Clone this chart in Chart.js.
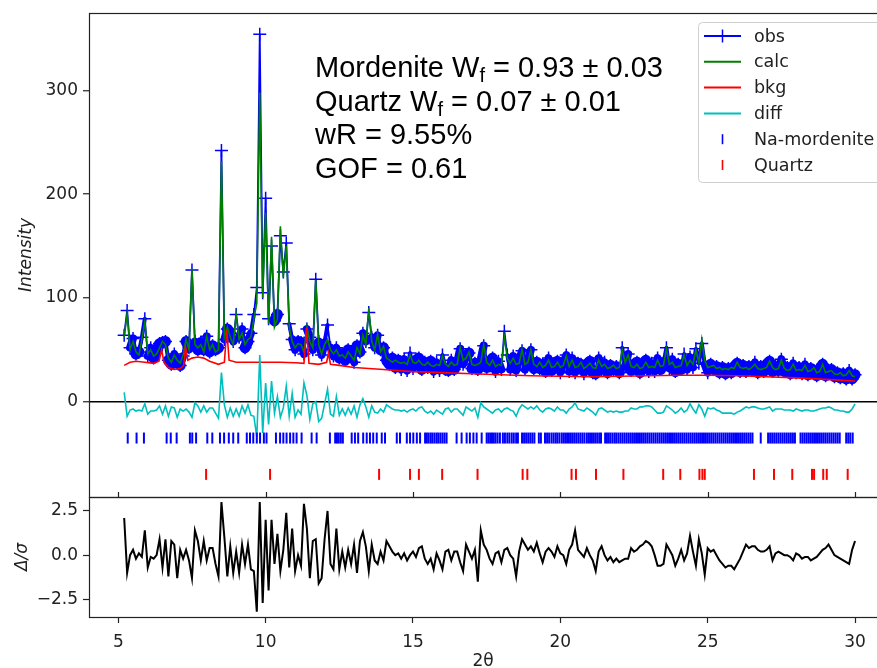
<!DOCTYPE html>
<html>
<head>
<meta charset="utf-8">
<script src="https://cdn.jsdelivr.net/npm/chart.js@4.4.0/dist/chart.umd.min.js"></script>
<style>
  html, body { margin: 0; padding: 0; background: #fff; overflow: hidden; }
  canvas { display: block; }
</style>
</head>
<body>
<canvas id="rietveld" width="877" height="668"></canvas>
<script>
// measurement grid (2theta, degrees)
const start2Theta = 5.2;
const step2Theta = 0.1;

// observed intensity, one value per grid step (5.2 .. 30.0)
const obs = [
  64, 88, 52, 61, 46, 48, 62, 80, 44, 52,
  42, 49, 56, 57, 58, 40, 36, 46, 38, 35,
  44, 58, 52, 127, 58, 50, 57, 50, 63, 48,
  54, 50, 52, 242, 60, 70, 66, 58, 84, 62,
  70, 52, 58, 66, 84, 110, 354, 105, 196, 80,
  150, 78, 84, 160, 125, 153, 75, 60, 50, 58,
  57, 46, 70, 62, 50, 118, 58, 45, 57, 74,
  52, 44, 52, 42, 46, 40, 50, 46, 38, 54,
  48, 66, 58, 86, 62, 52, 64, 50, 52, 40,
  36, 42, 33, 40, 31, 41, 30, 47, 32, 40,
  42, 31, 38, 33, 39, 29, 38, 30, 45, 31,
  30, 40, 31, 38, 51, 36, 44, 47, 32, 37,
  31, 41, 54, 33, 38, 42, 29, 39, 31, 68,
  45, 31, 44, 30, 40, 49, 31, 41, 50, 32,
  38, 32, 36, 29, 42, 30, 36, 39, 28, 37,
  45, 29, 42, 28, 37, 36, 27, 36, 39, 28,
  27, 42, 30, 38, 28, 35, 31, 34, 28, 52,
  34, 46, 30, 36, 38, 28, 35, 40, 29, 37,
  29, 42, 31, 37, 52, 32, 41, 29, 36, 31,
  46, 31, 43, 33, 51, 37, 56, 36, 28, 36,
  31, 34, 28, 33, 27, 32, 28, 34, 37, 29,
  35, 29, 34, 30, 38, 28, 34, 29, 36, 39,
  29, 34, 30, 41, 29, 33, 27, 37, 28, 33,
  27, 36, 26, 32, 30, 25, 31, 36, 25, 30,
  31, 24, 28, 23, 27, 22, 30, 22, 26
];

// calculated pattern
const calc = [
  62, 85, 50, 58, 48, 45, 60, 77, 46, 50,
  44, 46, 52, 58, 55, 42, 38, 45, 40, 37,
  45, 60, 50, 128, 55, 52, 55, 48, 63, 50,
  55, 48, 50, 232, 62, 72, 62, 55, 84, 60,
  66, 55, 60, 62, 80, 95, 298, 100, 182, 75,
  159, 72, 80, 169, 120, 150, 72, 58, 52, 56,
  55, 48, 72, 58, 52, 117, 55, 46, 55, 60,
  50, 46, 50, 44, 45, 42, 48, 44, 40, 52,
  46, 64, 55, 90, 58, 50, 65, 48, 53, 42,
  40, 38, 40, 38, 37, 38, 36, 45, 38, 37,
  40, 36, 35, 38, 35, 34, 36, 35, 44, 36,
  34, 38, 35, 36, 52, 40, 42, 48, 36, 35,
  36, 38, 55, 38, 35, 40, 34, 36, 35, 62,
  42, 37, 42, 36, 37, 50, 36, 38, 50, 36,
  34, 38, 33, 35, 40, 33, 34, 38, 33, 35,
  44, 34, 40, 33, 34, 38, 32, 34, 37, 33,
  32, 40, 34, 36, 32, 33, 35, 32, 33, 50,
  38, 45, 34, 33, 36, 32, 33, 38, 33, 34,
  33, 40, 34, 35, 51, 36, 38, 33, 34, 35,
  45, 35, 40, 36, 50, 38, 60, 40, 33, 34,
  35, 32, 33, 31, 32, 31, 33, 32, 38, 33,
  32, 33, 31, 33, 36, 32, 31, 32, 33, 39,
  33, 31, 32, 40, 32, 30, 31, 36, 30, 31,
  30, 35, 29, 30, 33, 28, 29, 36, 28, 29,
  30, 27, 26, 28, 25, 26, 30, 25, 24
];

// difference curve (plotted with its offset, as in the figure)
const diff = [
  9, -14, -8, -7, -9, -8, -9, -2, -12, -9,
  -9, -8, -4, -12, -4, -14, -5, -6, -15, -7,
  -9, -7, -10, -15, -1, -4, -10, -4, -10, -6,
  -6, -11, -16, 28, -3, -15, -6, -14, -7, -14,
  -4, -11, -3, -13, -14, -34, 45, -30, 18, -22,
  20, -11, 5, -15, -6, 15, -14, 8, -15, -8,
  -12, 18, 6, -17, -2, 0, -19, -16, -2, 12,
  -12, -14, 5, -13, -7, -13, -6, -12, -4, -15,
  -3, 3, -5, -15, -4, -10, -11, -7, -10, -3,
  -5, -7, -8, -8, -9, -8, -10, -8, -7, -9,
  -6, -5, -9, -11, -9, -12, -8, -10, -12, -7,
  -6, -10, -7, -7, -10, -13, -5, -7, -9, -6,
  -15, -1, -5, -7, -9, -11, -8, -7, -10, -7,
  -6, -8, -9, -14, -7, -3, -5, -7, -5, -7,
  -4, -8, -10, -7, -6, -7, -9, -5, -8, -8,
  -11, -7, -5, -1, -7, -8, -9, -6, -8, -10,
  -13, -7, -6, -8, -10, -9, -10, -9, -10, -10,
  -9, -9, -6, -7, -7, -5, -5, -4, -4, -5,
  -8, -11, -11, -10, -4, -6, -8, -11, -9, -6,
  -10, -8, -2, -7, -11, -3, -7, -14, -6, -7,
  -6, -8, -9, -11, -11, -11, -11, -12, -10, -9,
  -7, -5, -6, -5, -5, -6, -7, -7, -6, -5,
  -9, -7, -7, -7, -8, -8, -8, -9, -7, -8,
  -9, -8, -8, -9, -9, -8, -7, -6, -6, -5,
  -6, -8, -8, -9, -9, -10, -10, -7, -2
];

// normalised residual for the lower panel
const deltaSigma = [
  2.1, -1.0, 0.0, 0.3, -0.2, 0.1, -0.1, 1.4, -0.7, -0.1,
  -0.2, 0.0, 0.9, -0.7, 0.9, -1.2, 0.8, 0.6, -1.3, 0.3,
  -0.2, 0.3, -0.3, -1.3, 1.4, 0.8, -0.3, 0.8, -0.3, 0.4,
  0.4, -0.5, -1.2, 3.0, 1.0, -1.2, 0.5, -1.0, 0.2, -1.0,
  0.6, -0.5, 0.6, -0.8, -0.9, -3.2, 3.0, -2.7, 2.0, -2.0,
  2.0, -0.5, 1.2, -0.9, 0.3, 2.4, -0.7, 1.5, -0.9, 0.0,
  -0.6, 2.9, 1.5, -1.3, 0.8, 0.9, -1.6, -1.3, 0.9, 2.5,
  -0.5, -0.8, 1.5, -0.8, 0.2, -0.7, 0.3, -0.5, 0.6, -1.0,
  0.8, 1.3, 0.5, -0.9, 0.6, -0.3, -0.5, 0.2, -0.3, 0.8,
  0.5, 0.2, 0.0, 0.1, -0.2, 0.1, -0.3, 0.0, 0.2, -0.1,
  0.4, 0.5, -0.2, -0.5, -0.2, -0.8, 0.1, -0.3, -0.8, 0.2,
  0.3, -0.3, 0.2, 0.2, -0.4, -0.9, 0.6, 0.2, -0.2, 0.3,
  -1.5, 1.4, 0.6, 0.3, -0.2, -0.5, 0.1, 0.2, -0.4, 0.3,
  0.4, 0.0, -0.2, -1.2, 0.2, 0.9, 0.6, 0.3, 0.5, 0.2,
  0.7, 0.1, -0.4, 0.2, 0.4, 0.2, -0.1, 0.5, 0.1, 0.0,
  -0.5, 0.3, 0.6, 1.4, 0.3, 0.1, -0.1, 0.4, 0.0, -0.3,
  -0.9, 0.2, 0.5, 0.0, -0.3, -0.1, -0.4, -0.2, -0.4, -0.3,
  -0.2, -0.2, 0.4, 0.2, 0.3, 0.5, 0.6, 0.8, 0.7, 0.5,
  0.0, -0.6, -0.6, -0.5, 0.6, 0.3, 0.0, -0.6, -0.2, 0.3,
  -0.3, 0.1, 1.1, 0.2, -0.6, 0.9, 0.1, -1.1, 0.4, 0.2,
  0.3, 0.0, -0.3, -0.5, -0.7, -0.6, -0.6, -0.8, -0.5, -0.2,
  0.2, 0.6, 0.4, 0.5, 0.5, 0.3, 0.2, 0.2, 0.3, 0.5,
  -0.3, 0.1, 0.2, 0.1, 0.0, 0.0, -0.1, -0.3, 0.1, 0.0,
  -0.2, -0.1, -0.1, -0.3, -0.2, -0.1, 0.1, 0.3, 0.4, 0.6,
  0.3, 0.0, -0.1, -0.2, -0.3, -0.4, -0.5, 0.3, 0.8
];

// background, sampled where it bends
const bkgAngles = [5.2, 5.4, 5.6, 5.9, 6.2, 6.38, 6.47, 6.55, 6.7, 6.9,
  7.1, 7.22, 7.28, 7.36, 7.5, 7.7, 7.9, 8.1, 8.4, 8.6,
  8.68, 8.76, 9.0, 9.5, 10.0, 10.5, 11.0, 11.3, 11.39, 11.47,
  11.8, 12.07, 12.13, 12.2, 12.5, 13, 14, 15, 16, 17,
  18, 19, 20, 21, 22, 23, 24, 25, 26, 27, 28, 29, 30];
const bkg = [35, 38, 39, 38, 37, 39, 50, 38, 33, 31,
  32, 35, 53, 40, 42, 43, 42, 39, 36, 38,
  70, 40, 38, 38, 38, 38, 37.5, 37, 71, 37,
  36, 38, 47, 36, 35, 33, 31, 29, 28, 27,
  26, 25, 24.5, 24, 24.5, 25, 25.5, 25.5, 25, 24, 23, 21.5, 20];

// reflection positions (2theta)
const mordeniteTicks = [5.32, 5.62, 5.87, 6.64, 6.78, 6.98, 7.43, 7.51, 7.64, 8.02,
  8.19, 8.45, 8.59, 8.75, 8.9, 9.07, 9.36, 9.47, 9.58, 9.7,
  9.81, 9.94, 10.03, 10.35, 10.49, 10.6, 10.71, 10.83, 10.94, 11.05,
  11.22, 11.56, 11.73, 12.18, 12.36, 12.42, 12.48, 12.55, 12.62, 12.92,
  13.03, 13.14, 13.31, 13.43, 13.54, 13.65, 13.77, 13.94, 14.05, 14.45,
  14.56, 14.79, 14.9, 15.01, 15.13, 15.24, 15.41, 15.47, 15.53, 15.6,
  15.66, 15.73, 15.8, 15.86, 15.93, 16.0, 16.07, 16.14, 16.48, 16.65,
  16.82, 16.93, 17.05, 17.16, 17.33, 17.5, 17.56, 17.62, 17.68, 17.74,
  17.8, 17.87, 17.95, 18.05, 18.12, 18.2, 18.27, 18.35, 18.42, 18.5,
  18.56, 18.7, 18.77, 18.84, 18.91, 18.98, 19.05, 19.12, 19.27, 19.34,
  19.48, 19.55, 19.62, 19.7, 19.77, 19.84, 19.9, 19.97, 20.05, 20.12,
  20.19, 20.26, 20.33, 20.4, 20.47, 20.54, 20.61, 20.68, 20.75, 20.82,
  20.9, 20.97, 21.04, 21.11, 21.18, 21.25, 21.32, 21.38, 21.52, 21.58,
  21.64, 21.7, 21.77, 21.84, 21.9, 21.97, 22.04, 22.11, 22.18, 22.25,
  22.32, 22.39, 22.46, 22.53, 22.6, 22.67, 22.74, 22.81, 22.88, 22.95,
  23.02, 23.09, 23.16, 23.23, 23.3, 23.37, 23.44, 23.51, 23.58, 23.65,
  23.72, 23.79, 23.86, 23.93, 24.0, 24.07, 24.14, 24.21, 24.28, 24.35,
  24.42, 24.49, 24.56, 24.63, 24.7, 24.77, 24.84, 24.91, 24.98, 25.05,
  25.12, 25.19, 25.26, 25.33, 25.4, 25.47, 25.54, 25.61, 25.68, 25.75,
  25.82, 25.89, 25.96, 26.03, 26.1, 26.17, 26.24, 26.31, 26.38, 26.45,
  26.52, 26.8, 27.05, 27.12, 27.19, 27.26, 27.33, 27.4, 27.47, 27.54,
  27.61, 27.68, 27.75, 27.82, 27.89, 27.96, 28.15, 28.22, 28.29, 28.36,
  28.43, 28.5, 28.57, 28.64, 28.71, 28.78, 28.85, 28.92, 28.99, 29.06,
  29.13, 29.2, 29.27, 29.34, 29.41, 29.48, 29.7, 29.77, 29.84, 29.92];
const quartzTicks = [7.98, 10.15, 13.85, 14.9, 15.2, 15.99, 17.19, 18.72, 18.88, 20.38,
  20.53, 21.21, 22.14, 23.49, 24.07, 24.72, 24.82, 24.9, 26.57, 27.25,
  27.87, 28.54, 28.61, 28.92, 29.04, 29.75];

// refinement results written on the plot: [text, subscript, rest]
const fitNotes = [
  ['Mordenite W', 'f', ' = 0.93 \u00b1 0.03'],
  ['Quartz W', 'f', ' = 0.07 \u00b1 0.01'],
  ['wR = 9.55%'],
  ['GOF = 0.61']
];

const twoTheta = obs.map((_, i) => Math.round((start2Theta + i * step2Theta) * 10) / 10);
const onGrid = ys => ys.map((y, i) => ({ x: twoTheta[i], y: y }));
const NA_ROW = -35;   // vertical place of the reflection rows
const QZ_ROW = -70;

const tickFont = { family: 'DejaVu Sans', size: 17 };
const ink = '#222';

// the dense "+" markers of the original merge into a band where the pattern is flat
function obsWidth(ctx) {
  const dy = Math.abs(ctx.p1.y - ctx.p0.y);
  if (dy < 8) return 11;
  if (dy < 14) return 8;
  if (dy < 22) return 4;
  return 1.8;
}

function noPadding(s) {
  s.paddingLeft = 0; s.paddingRight = 0; s.paddingTop = 0; s.paddingBottom = 0;
}

const panelFrame = {
  id: 'panelFrame',
  afterDatasetsDraw(chart) {
    const { ctx, chartArea, scales } = chart;
    ctx.save();
    ctx.strokeStyle = ink;
    ctx.lineWidth = 1.2;
    [scales.y, scales.d].forEach(s => {
      ctx.strokeRect(chartArea.left + 0.5, Math.round(s.top) + 0.5, chartArea.width + 20, s.bottom - s.top);
    });
    // tick marks of the upper panel's x axis
    scales.x.ticks.forEach(t => {
      const px = Math.round(scales.x.getPixelForValue(t.value)) + 0.5;
      ctx.beginPath();
      ctx.moveTo(px, scales.y.bottom - 5);
      ctx.lineTo(px, scales.y.bottom);
      ctx.stroke();
    });

    // fit results
    ctx.fillStyle = '#000';
    ctx.textBaseline = 'alphabetic';
    fitNotes.forEach((parts, i) => {
      let x = 315;
      const y = 77 + i * 33.5;
      ctx.font = '29px "Liberation Sans"';
      ctx.fillText(parts[0], x, y);
      x += ctx.measureText(parts[0]).width;
      if (parts.length > 1) {
        ctx.font = '20px "Liberation Sans"';
        ctx.fillText(parts[1], x, y + 5);
        x += ctx.measureText(parts[1]).width;
        ctx.font = '29px "Liberation Sans"';
        ctx.fillText(parts[2], x, y);
      }
    });

    // legend box
    const bx = 698.5, by = 22.5, bw = 220, bh = 160, r = 4;
    ctx.beginPath();
    ctx.moveTo(bx + r, by);
    ctx.lineTo(bx + bw, by);
    ctx.lineTo(bx + bw, by + bh);
    ctx.lineTo(bx + r, by + bh);
    ctx.arcTo(bx, by + bh, bx, by + bh - r, r);
    ctx.lineTo(bx, by + r);
    ctx.arcTo(bx, by, bx + r, by, r);
    ctx.fillStyle = 'rgba(255,255,255,0.8)';
    ctx.fill();
    ctx.strokeStyle = '#cfcfcf';
    ctx.lineWidth = 1;
    ctx.stroke();

    const entries = chart.data.datasets.filter(ds => !ds.noLegend);
    ctx.font = '17.5px "DejaVu Sans"';
    ctx.textBaseline = 'middle';
    entries.forEach((ds, i) => {
      const y = 36 + i * 25.8;
      ctx.strokeStyle = ds.borderColor;
      if (ds.pointStyle === 'line') {
        ctx.lineWidth = 1.6;
        ctx.beginPath();
        ctx.moveTo(722.5, y - 5);
        ctx.lineTo(722.5, y + 5);
        ctx.stroke();
      } else {
        ctx.lineWidth = 2;
        ctx.beginPath();
        ctx.moveTo(704, y);
        ctx.lineTo(741, y);
        ctx.stroke();
        if (ds.pointStyle === 'cross') {
          ctx.lineWidth = 1.5;
          ctx.beginPath();
          ctx.moveTo(722.5, y - 6.5);
          ctx.lineTo(722.5, y + 6.5);
          ctx.stroke();
        }
      }
      ctx.fillStyle = ink;
      ctx.fillText(ds.label, 754, y + 1);
    });
    ctx.restore();
  }
};

new Chart(document.getElementById('rietveld').getContext('2d'), {
  type: 'line',
  data: {
    datasets: [
      {
        label: 'obs', data: onGrid(obs), yAxisID: 'y', order: 5,
        borderColor: '#0000ff', borderWidth: 1.8, borderCapStyle: 'round', borderJoinStyle: 'round',
        segment: { borderWidth: obsWidth },
        pointStyle: 'cross', pointRadius: 6.5, pointBorderWidth: 1.5,
        pointBorderColor: '#0000ff', pointBackgroundColor: '#0000ff'
      },
      {
        label: 'calc', data: onGrid(calc), yAxisID: 'y', order: 4,
        borderColor: '#008000', borderWidth: 1.6, pointRadius: 0
      },
      {
        label: 'bkg', data: bkgAngles.map((x, i) => ({ x: x, y: bkg[i] })), yAxisID: 'y', order: 3,
        borderColor: '#ff0000', borderWidth: 1.6, pointRadius: 0
      },
      {
        label: 'diff', data: onGrid(diff), yAxisID: 'y', order: 2,
        borderColor: '#00bfbf', borderWidth: 1.6, pointRadius: 0
      },
      {
        label: 'Na-mordenite', data: mordeniteTicks.map(x => ({ x: x, y: NA_ROW })), yAxisID: 'y', order: 1,
        showLine: false, borderColor: '#0000ff', pointStyle: 'line', rotation: 90,
        pointRadius: 5.5, pointBorderWidth: 2, pointBorderColor: '#0000ff'
      },
      {
        label: 'Quartz', data: quartzTicks.map(x => ({ x: x, y: QZ_ROW })), yAxisID: 'y', order: 1,
        showLine: false, borderColor: '#ff0000', pointStyle: 'line', rotation: 90,
        pointRadius: 5.5, pointBorderWidth: 2, pointBorderColor: '#ff0000'
      },
      {
        label: '\u0394/\u03c3', data: onGrid(deltaSigma), yAxisID: 'd', order: 1, noLegend: true,
        borderColor: '#000000', borderWidth: 2, pointRadius: 0
      }
    ]
  },
  options: {
    responsive: false,
    animation: false,
    devicePixelRatio: 1,
    events: [],
    layout: { autoPadding: false, padding: { top: 13, left: 0, right: 0, bottom: 0 } },
    plugins: { legend: { display: false }, tooltip: { enabled: false } },
    scales: {
      x: {
        type: 'linear', min: 4.006, max: 30.745,
        ticks: { stepSize: 5, includeBounds: false, font: tickFont, color: ink, padding: 9, maxRotation: 0 },
        grid: { drawOnChartArea: false, tickLength: 6, tickColor: ink, tickWidth: 1.2 },
        border: { display: false },
        title: { display: true, text: '2\u03b8', font: { family: 'DejaVu Sans', size: 17, lineHeight: 1 }, color: ink, padding: { top: 0, bottom: -2 } },
        afterFit(s) { s.height = 51; noPadding(s); }
      },
      d: {
        type: 'linear', position: 'left', stack: 'panels', stackWeight: 120,
        min: -3.5, max: 3.29,
        ticks: {
          stepSize: 2.5, includeBounds: false, font: tickFont, color: ink, padding: 5,
          callback: v => (v < 0 ? '\u2212' : '') + Math.abs(v).toFixed(1)
        },
        grid: { drawOnChartArea: false, tickLength: 6, tickColor: ink, tickWidth: 1.2 },
        border: { display: false },
        title: { display: true, text: '\u0394/\u03c3', font: { family: 'DejaVu Sans', size: 17, style: 'italic' }, color: ink, padding: { top: 12, bottom: 0 } },
        afterFit(s) { s.width = 89; noPadding(s); }
      },
      y: {
        type: 'linear', position: 'left', stack: 'panels', stackWeight: 484,
        min: -91.8, max: 374.5,
        ticks: { stepSize: 100, includeBounds: false, font: tickFont, color: ink, padding: 5 },
        grid: {
          drawOnChartArea: true, tickLength: 6, tickColor: ink, tickWidth: 1.2, lineWidth: 1.5,
          color: c => (c.tick && c.tick.value === 0) ? '#000000' : 'rgba(0,0,0,0)'
        },
        border: { display: false },
        title: { display: true, text: 'Intensity', font: { family: 'DejaVu Sans', size: 17, style: 'italic' }, color: ink, padding: { top: 16, bottom: 0 } },
        afterFit(s) { s.width = 89; noPadding(s); }
      }
    }
  },
  plugins: [panelFrame]
});
</script>
</body>
</html>
